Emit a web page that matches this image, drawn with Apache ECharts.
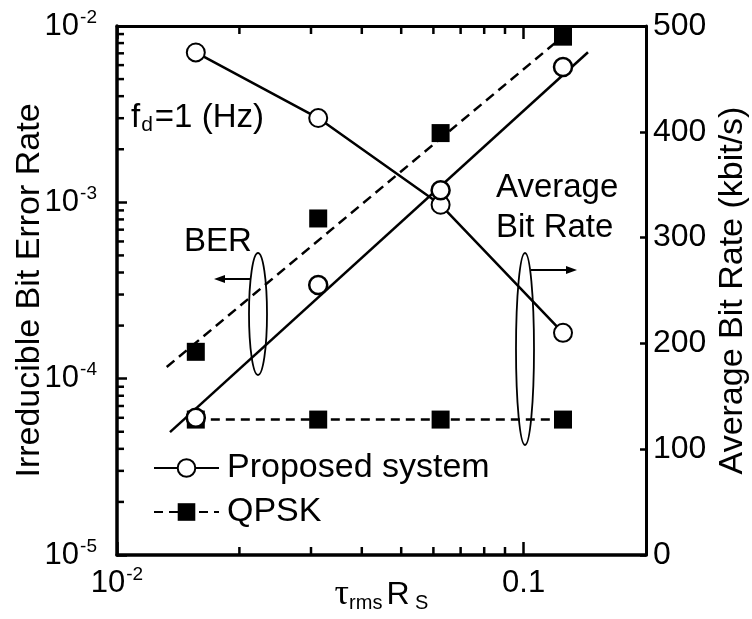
<!DOCTYPE html>
<html>
<head>
<meta charset="utf-8">
<script src="https://cdn.jsdelivr.net/npm/echarts@6/dist/echarts.min.js"></script>
<style>
  html, body { margin: 0; padding: 0; background: #fff; }
  #chart { width: 752px; height: 619px; }
</style>
</head>
<body>
<div id="chart"></div>
<script>
// Normalised delay spread (tau_rms * Rs) at which each system was evaluated
const delaySpread = [0.015625, 0.03125, 0.0625, 0.125];

// Irreducible bit error rate
const berProposed = [6.0e-5, 3.4e-4, 1.17e-3, 5.85e-3];
const berQpsk = [1.42e-4, 8.1e-4, 2.47e-3, 8.7e-3];

// Average bit rate (kbit/s)
const rateProposed = [475, 413, 331, 210];
const rateQpsk = [128, 128, 128, 128];

// End points of the straight-line BER fits
const fitProposedX = [0.0135, 0.144];
const fitProposedY = [4.98e-5, 7.1e-3];
const fitQpskX = [0.01325, 0.125];
const fitQpskY = [1.164e-4, 8.74e-3];

// Axis ranges and tick labels
const xRange = [0.01, 0.2];
const berRange = [1e-5, 1e-2];
const rateRange = [0, 500];
const xTicks = [0.01, 0.1];
const xTickLabels = ['10^-2', '0.1'];
const berTicks = [1e-5, 1e-4, 1e-3, 1e-2];
const berTickLabels = ['10^-5', '10^-4', '10^-3', '10^-2'];
const xMinorTicks = [0.02, 0.03, 0.04, 0.05, 0.06, 0.07, 0.08, 0.09];
const berMinorTicks = [
  2e-5, 3e-5, 4e-5, 5e-5, 6e-5, 7e-5, 8e-5, 9e-5,
  2e-4, 3e-4, 4e-4, 5e-4, 6e-4, 7e-4, 8e-4, 9e-4,
  2e-3, 3e-3, 4e-3, 5e-3, 6e-3, 7e-3, 8e-3, 9e-3
];

const FONT = 'Liberation Sans, Arial, Helvetica, sans-serif';
const INK = '#000';

function pairs(xs, ys) {
  return xs.map(function (x, i) { return [x, ys[i]]; });
}

// "10^-3" -> base with superscript exponent
function tickText(v, ticks, labels) {
  for (let i = 0; i < ticks.length; i++) {
    if (Math.abs(v / ticks[i] - 1) < 1e-6) {
      const parts = labels[i].split('^');
      return parts.length === 2
        ? '{b|' + parts[0] + '}{s|' + parts[1] + '}'
        : '{b|' + parts[0] + '}';
    }
  }
  return '';
}

const tickRich = {
  b: { fontSize: 31, lineHeight: 36, fontFamily: FONT, color: INK },
  s: { fontSize: 19, lineHeight: 36, verticalAlign: 'top', fontFamily: FONT, color: INK, padding: [0, 0, 0, 1] }
};

const chart = echarts.init(document.getElementById('chart'), null, { renderer: 'canvas' });

const option = {
  animation: false,
  backgroundColor: '#fff',
  textStyle: { fontFamily: FONT, color: INK },
  grid: { left: 117, right: 106, top: 26, bottom: 64, containLabel: false, outerBoundsMode: 'none' },
  legend: {
    orient: 'vertical',
    left: 148,
    top: 446,
    itemWidth: 65,
    itemHeight: 22,
    itemGap: 10,
    selectedMode: false,
    data: ['Proposed system', 'QPSK'],
    textStyle: { fontSize: 34, fontFamily: FONT, color: INK, padding: [0, 0, 0, 3] }
  },
  xAxis: [
    {
      type: 'log', logBase: 10, min: xRange[0], max: xRange[1], position: 'bottom',
      name: '{t|τ}{sub|rms}{r|R}{sub| S}',
      nameLocation: 'middle', nameGap: 22, nameMoveOverlap: false,
      nameTextStyle: {
        rich: {
          t: { fontSize: 36, fontFamily: 'Liberation Serif, serif', color: INK, lineHeight: 36 },
          sub: { fontSize: 20, fontFamily: FONT, color: INK, verticalAlign: 'bottom', lineHeight: 36 },
          r: { fontSize: 32, fontFamily: FONT, color: INK, lineHeight: 36, padding: [0, 0, 0, 4] }
        }
      },
      axisLine: { show: true, lineStyle: { color: INK, width: 3.5 } },
      axisTick: { show: true, inside: true, length: 13, lineStyle: { color: INK, width: 2.5 } },
      axisLabel: {
        margin: 10,
        formatter: function (v) { return tickText(v, xTicks, xTickLabels); },
        rich: tickRich
      },
      splitLine: { show: false }
    },
    {
      type: 'log', logBase: 10, min: xRange[0], max: xRange[1], position: 'top',
      axisLine: { show: true, lineStyle: { color: INK, width: 3 } },
      axisTick: { show: true, inside: true, length: 13, lineStyle: { color: INK, width: 2.5 } },
      axisLabel: { show: false },
      splitLine: { show: false }
    }
  ],
  yAxis: [
    {
      type: 'log', logBase: 10, min: berRange[0], max: berRange[1], position: 'left',
      name: 'Irreducible Bit Error Rate',
      nameLocation: 'middle', nameRotate: 90, nameGap: 70, nameMoveOverlap: false,
      nameTextStyle: { fontSize: 34, fontFamily: FONT, color: INK },
      axisLine: { show: true, lineStyle: { color: INK, width: 3.5 } },
      axisTick: { show: true, inside: true, length: 10, lineStyle: { color: INK, width: 2.5 } },
      axisLabel: {
        margin: 20,
        formatter: function (v) { return tickText(v, berTicks, berTickLabels); },
        rich: tickRich
      },
      splitLine: { show: false }
    },
    {
      type: 'value', min: rateRange[0], max: rateRange[1], interval: 100, position: 'right',
      name: 'Average Bit Rate (kbit/s)',
      nameLocation: 'middle', nameRotate: 90, nameGap: 70, nameMoveOverlap: false,
      nameTextStyle: { fontSize: 34, fontFamily: FONT, color: INK },
      axisLine: { show: true, lineStyle: { color: INK, width: 3 } },
      axisTick: { show: true, inside: true, length: 6, lineStyle: { color: INK, width: 2.5 } },
      axisLabel: { margin: 7, fontSize: 32, fontFamily: FONT, color: INK },
      splitLine: { show: false }
    }
  ],
  series: [
    {
      name: 'Proposed system', type: 'line', xAxisIndex: 0, yAxisIndex: 1,
      data: pairs(delaySpread, rateProposed),
      symbol: 'emptyCircle', symbolSize: 18,
      lineStyle: { color: INK, width: 2.5, type: 'solid' },
      itemStyle: { color: INK, borderColor: INK, borderWidth: 2.5, opacity: 1 },
      z: 3
    },
    {
      name: 'QPSK', type: 'line', xAxisIndex: 0, yAxisIndex: 1,
      data: pairs(delaySpread, rateQpsk),
      symbol: 'rect', symbolSize: 18,
      lineStyle: { color: INK, width: 2.5, type: [9, 6] },
      itemStyle: { color: INK, opacity: 1 },
      z: 3
    },
    {
      name: 'Proposed BER fit', type: 'line', xAxisIndex: 0, yAxisIndex: 0,
      data: pairs(fitProposedX, fitProposedY),
      symbol: 'none',
      lineStyle: { color: INK, width: 2.5, type: 'solid' },
      z: 2
    },
    {
      name: 'QPSK BER fit', type: 'line', xAxisIndex: 0, yAxisIndex: 0,
      data: pairs(fitQpskX, fitQpskY),
      symbol: 'none',
      lineStyle: { color: INK, width: 2.5, type: [10, 6] },
      z: 2
    },
    {
      name: 'Proposed BER', type: 'scatter', xAxisIndex: 0, yAxisIndex: 0,
      data: pairs(delaySpread, berProposed),
      symbol: 'circle', symbolSize: 18,
      itemStyle: { color: '#fff', borderColor: INK, borderWidth: 2.5, opacity: 1 },
      z: 4
    },
    {
      name: 'QPSK BER', type: 'scatter', xAxisIndex: 0, yAxisIndex: 0,
      data: pairs(delaySpread, berQpsk),
      symbol: 'rect', symbolSize: 18,
      itemStyle: { color: INK, opacity: 1 },
      z: 4
    },
    {
      // minor ticks on the bottom and top log axes
      name: 'x minor ticks', type: 'custom', xAxisIndex: 0, yAxisIndex: 0,
      data: xMinorTicks.map(function (v) { return [v, berRange[0]]; }),
      silent: true, clip: false,
      renderItem: function (params, api) {
        const v = api.value(0);
        const pb = api.coord([v, berRange[0]]);
        const pt = api.coord([v, berRange[1]]);
        const st = { stroke: INK, lineWidth: 2.5 };
        return {
          type: 'group',
          children: [
            { type: 'line', shape: { x1: pb[0], y1: pb[1], x2: pb[0], y2: pb[1] - 8 }, style: st },
            { type: 'line', shape: { x1: pt[0], y1: pt[1], x2: pt[0], y2: pt[1] + 8 }, style: st }
          ]
        };
      }
    },
    {
      // minor ticks on the left log axis
      name: 'y minor ticks', type: 'custom', xAxisIndex: 0, yAxisIndex: 0,
      data: berMinorTicks.map(function (v) { return [xRange[0], v]; }),
      silent: true, clip: false,
      renderItem: function (params, api) {
        const p = api.coord([xRange[0], api.value(1)]);
        return {
          type: 'line',
          shape: { x1: p[0], y1: p[1], x2: p[0] + 7, y2: p[1] },
          style: { stroke: INK, lineWidth: 2.5 }
        };
      }
    }
  ],
  graphic: [
    {
      type: 'text', x: 131, y: 100, z: 10,
      style: {
        text: '{n|f}{d|d}{n|=1 (Hz)}',
        rich: {
          n: { fontSize: 33, fontFamily: FONT, fill: INK, lineHeight: 36 },
          d: { fontSize: 21, fontFamily: FONT, fill: INK, lineHeight: 36, verticalAlign: 'bottom', padding: [0, 2, 0, 1] }
        }
      }
    },
    {
      type: 'text', x: 184, y: 225, z: 10,
      style: { text: 'BER', fontSize: 33, fontFamily: FONT, fill: INK }
    },
    {
      type: 'text', x: 496, y: 168, z: 10,
      style: { text: 'Average\nBit Rate', fontSize: 33, lineHeight: 40, fontFamily: FONT, fill: INK }
    },
    // bracket loop around the BER curves, arrow to the left axis
    {
      type: 'ellipse', z: 10,
      shape: { cx: 258, cy: 314, rx: 9, ry: 61 },
      style: { fill: 'none', stroke: INK, lineWidth: 1.8 }
    },
    {
      type: 'line', z: 10,
      shape: { x1: 251, y1: 279, x2: 222, y2: 279 },
      style: { stroke: INK, lineWidth: 2 }
    },
    {
      type: 'polygon', z: 10,
      shape: { points: [[214, 279], [225, 275], [225, 283]] },
      style: { fill: INK }
    },
    // bracket loop around the bit-rate curves, arrow to the right axis
    {
      type: 'ellipse', z: 10,
      shape: { cx: 525, cy: 349, rx: 9, ry: 96 },
      style: { fill: 'none', stroke: INK, lineWidth: 1.8 }
    },
    {
      type: 'line', z: 10,
      shape: { x1: 531, y1: 270, x2: 568, y2: 270 },
      style: { stroke: INK, lineWidth: 2 }
    },
    {
      type: 'polygon', z: 10,
      shape: { points: [[577, 270], [566, 266], [566, 274]] },
      style: { fill: INK }
    }
  ]
};

chart.setOption(option);
</script>
</body>
</html>
